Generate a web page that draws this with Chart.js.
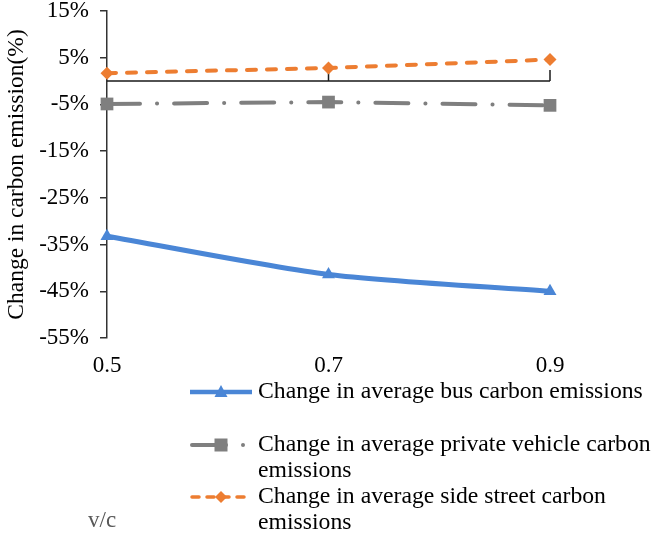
<!DOCTYPE html>
<html>
<head>
<meta charset="utf-8">
<script src="https://cdn.jsdelivr.net/npm/chart.js@4"></script>
<style>
html,body{margin:0;padding:0;background:#fff;}
#wrap{width:661px;height:536px;}
</style>
</head>
<body>
<div id="wrap"><canvas id="c" width="661" height="536"></canvas></div>
<script>
const categories = ['0.5', '0.7', '0.9'];
const busChange = [-33.2, -41.4, -45.0];
const privateChange = [-4.9, -4.5, -5.2];
const sideStreetChange = [1.7, 2.8, 4.6];
const yMin = -55, yMax = 15, yStep = 10;
const yTitle = 'Change in carbon emission(%)';
const xTitle = 'v/c';
const legendLabels = [
  ['Change in average bus carbon emissions'],
  ['Change in average private vehicle carbon', 'emissions'],
  ['Change in average side street carbon', 'emissions']
];
const colors = { bus: '#4A86D6', priv: '#7F7F7F', side: '#ED7D31' };
const FONT = '"Liberation Serif", "Times New Roman", serif';

function drawMarker(ctx, style, x, y, color) {
  ctx.save();
  ctx.fillStyle = color;
  ctx.beginPath();
  if (style === 'triangle') {
    ctx.moveTo(x, y - 7); ctx.lineTo(x + 6.5, y + 5); ctx.lineTo(x - 6.5, y + 5);
  } else if (style === 'rect') {
    ctx.rect(x - 6.5, y - 6.5, 13, 13);
  } else {
    ctx.moveTo(x, y - 6); ctx.lineTo(x + 6, y); ctx.lineTo(x, y + 6); ctx.lineTo(x - 6, y);
  }
  ctx.closePath();
  ctx.fill();
  ctx.restore();
}

const overlay = {
  id: 'overlay',
  beforeDatasetsDraw(chart) {
    const ctx = chart.ctx, x = chart.scales.x, y = chart.scales.y;
    const y0 = y.getPixelForValue(0);
    ctx.save();
    ctx.strokeStyle = '#1a1a1a';
    ctx.lineWidth = 1.5;
    ctx.beginPath();
    ctx.moveTo(x.getPixelForValue(0), y0);
    ctx.lineTo(x.getPixelForValue(categories.length - 1), y0);
    for (let i = 1; i < categories.length; i++) {
      const px = x.getPixelForValue(i);
      ctx.moveTo(px, y0); ctx.lineTo(px, y0 - 11);
    }
    ctx.stroke();
    ctx.restore();
  },
  afterDraw(chart) {
    const ctx = chart.ctx;
    ctx.save();
    ctx.font = '23.7px ' + FONT;
    ctx.fillStyle = '#000';
    ctx.textBaseline = 'middle';
    ctx.textAlign = 'left';
    const textX = 258;
    const rows = [392, 445, 497];
    const lh = 26;
    // entry 1
    ctx.strokeStyle = colors.bus; ctx.lineWidth = 4.5; ctx.lineCap = 'butt';
    ctx.beginPath(); ctx.moveTo(190, rows[0]); ctx.lineTo(252, rows[0]); ctx.stroke();
    drawMarker(ctx, 'triangle', 221, rows[0], colors.bus);
    // entry 2
    ctx.strokeStyle = colors.priv; ctx.lineWidth = 4; ctx.lineCap = 'round';
    ctx.beginPath(); ctx.moveTo(192, rows[1]); ctx.lineTo(226, rows[1]); ctx.stroke();
    drawMarker(ctx, 'rect', 221, rows[1], colors.priv);
    ctx.fillStyle = colors.priv;
    ctx.beginPath(); ctx.arc(243, rows[1], 2, 0, Math.PI * 2); ctx.fill();
    // entry 3
    ctx.strokeStyle = colors.side; ctx.lineWidth = 3.5; ctx.lineCap = 'round';
    ctx.setLineDash([7, 8]);
    ctx.beginPath(); ctx.moveTo(192, rows[2]); ctx.lineTo(250, rows[2]); ctx.stroke();
    ctx.setLineDash([]);
    drawMarker(ctx, 'diamond', 221, rows[2], colors.side);
    ctx.fillStyle = '#000';
    legendLabels.forEach((lines, i) => {
      lines.forEach((t, j) => ctx.fillText(t, textX, rows[i] + j * lh));
    });
    ctx.fillStyle = '#595959';
    ctx.font = '23px ' + FONT;
    ctx.fillText(xTitle, 88, 521);
    ctx.restore();
  }
};

new Chart(document.getElementById('c'), {
  type: 'line',
  data: {
    labels: categories,
    datasets: [
      { label: legendLabels[0].join(' '), data: busChange, borderColor: colors.bus, backgroundColor: colors.bus,
        borderWidth: 5, pointStyle: 'triangle', pointRadius: 7.5, pointBorderWidth: 0, tension: 0.25, clip: false },
      { label: legendLabels[1].join(' '), data: privateChange, borderColor: colors.priv, backgroundColor: colors.priv,
        borderWidth: 4, borderDash: [33, 17, 0.1, 17], borderCapStyle: 'round', pointStyle: 'rect', pointRadius: 9,
        pointBorderWidth: 0, tension: 0, clip: false },
      { label: legendLabels[2].join(' '), data: sideStreetChange, borderColor: colors.side, backgroundColor: colors.side,
        borderWidth: 4, borderDash: [9, 11], borderCapStyle: 'round', pointStyle: 'rectRot', pointRadius: 6.5,
        pointBorderWidth: 0, tension: 0, clip: false }
    ]
  },
  options: {
    responsive: false,
    animation: false,
    events: [],
    layout: { padding: { top: 11, right: 111, bottom: 148, left: 0 } },
    plugins: { legend: { display: false }, tooltip: { enabled: false }, title: { display: false } },
    scales: {
      x: {
        type: 'category',
        offset: false,
        grid: { display: false },
        border: { display: false },
        ticks: { color: '#000', font: { family: FONT, size: 23 }, padding: 6, maxRotation: 0 },
        afterFit(s) { s.height = 50; s.paddingLeft = 0; s.paddingRight = 0; }
      },
      y: {
        min: yMin, max: yMax,
        border: { display: true, color: '#333', width: 1.5 },
        grid: { drawOnChartArea: false, color: '#333', lineWidth: 1.5, tickLength: 7 },
        ticks: { stepSize: yStep, color: '#000', font: { family: FONT, size: 23 }, padding: 11,
                 callback: v => v + '%' },
        title: { display: true, text: yTitle, color: '#000', font: { family: FONT, size: 23.5 }, padding: { top: 3, bottom: 0 } },
        afterFit(s) { s.width = 107; s.paddingTop = 0; s.paddingBottom = 0; }
      }
    }
  },
  plugins: [overlay]
});
</script>
</body>
</html>
